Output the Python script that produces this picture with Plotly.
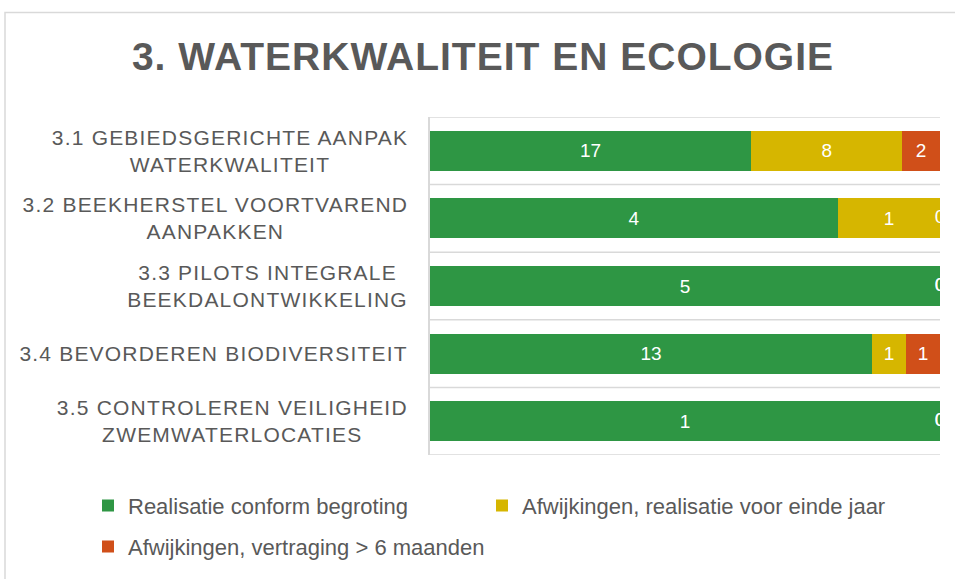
import plotly.graph_objects as go

# ---- data ----
categories = [
    "3.1 GEBIEDSGERICHTE AANPAK<br>WATERKWALITEIT",
    "3.2 BEEKHERSTEL VOORTVAREND<br>AANPAKKEN",
    "3.3 PILOTS INTEGRALE<br>BEEKDALONTWIKKELING",
    "3.4 BEVORDEREN BIODIVERSITEIT",
    "3.5 CONTROLEREN VEILIGHEID<br>ZWEMWATERLOCATIES",
]
series_names = [
    "Realisatie conform begroting",
    "Afwijkingen, realisatie voor einde jaar",
    "Afwijkingen, vertraging > 6 maanden",
]
realisatie = [17, 4, 5, 13, 1]
afwijking_jaar = [8, 1, 0, 1, 0]
vertraging = [2, 0, 0, 1, 0]
series_values = [realisatie, afwijking_jaar, vertraging]
colors = ["#2E9644", "#D6B600", "#D04F19"]
legend_ids = ["legend", "legend2", "legend3"]
title_text = "3. WATERKWALITEIT EN ECOLOGIE"

# ---- layout geometry (pixels) ----
FW, FH = 955, 579
L, R, T, B = 430, 15, 117, 122
PW, PH = FW - L - R, FH - T - B


def px_x(px):
    return (px - L) / PW


def px_y(py):
    return (FH - B - py) / PH


TXT = "#595959"
FONT = "Liberation Sans, Arial, sans-serif"
ycat = list(range(len(categories)))

fig = go.Figure()
for name, vals, col, lg in zip(series_names, series_values, colors, legend_ids):
    fig.add_trace(go.Bar(
        y=ycat, x=vals, name=name, orientation="h", legend=lg,
        marker=dict(color=col, line=dict(width=0)),
        text=[str(v) if v != 0 else "" for v in vals],
        textposition="inside", insidetextanchor="middle",
        textfont=dict(color="white", size=19, family=FONT),
        constraintext="none",
    ))

# zero-value data labels sit at the 100% end of the bar (clipped by plot area)
zx, zy, zt = [], [], []
for vals in series_values[1:]:
    for i, v in enumerate(vals):
        if v == 0:
            zx.append(100)
            zy.append(i)
            zt.append(str(v))
fig.add_trace(go.Scatter(
    x=zx, y=zy, text=zt, mode="text", textposition="middle center",
    textfont=dict(color="white", size=19, family=FONT),
    showlegend=False, cliponaxis=True, hoverinfo="skip",
))

# category labels (centered multi-line, right-aligned block)
annotations = []
for i, c in enumerate(categories):
    annotations.append(dict(
        x=0, xref="paper", y=i, yref="y", text=c, showarrow=False,
        xanchor="right", yanchor="middle", align="center", xshift=-20, yshift=0,
        font=dict(size=21, color=TXT, family=FONT),
    ))

# category separator lines + chart border
shapes = []
for k in range(len(categories) + 1):
    shapes.append(dict(type="line", xref="paper", yref="y", x0=0, x1=1,
                       y0=k - 0.5, y1=k - 0.5,
                       line=dict(color="#D9D9D9", width=1.5), layer="below"))
shapes.append(dict(type="rect", xref="paper", yref="paper",
                   x0=px_x(5), x1=px_x(FW + 20), y0=px_y(FH + 20), y1=px_y(12),
                   line=dict(color="#D9D9D9", width=1.5), layer="below"))

legend_common = dict(orientation="h", xanchor="left", yanchor="top",
                     font=dict(size=22, color=TXT, family=FONT),
                     itemclick=False, itemdoubleclick=False,
                     bgcolor="rgba(0,0,0,0)")

fig.update_layout(
    width=FW, height=FH,
    margin=dict(l=L, r=R, t=T, b=B),
    paper_bgcolor="white", plot_bgcolor="white",
    barmode="stack", barnorm="percent", bargap=0.41,
    title=dict(text="<b>" + title_text + "</b>", x=483 / FW, xanchor="center",
               y=1 - 56 / FH, yanchor="middle", xref="container", yref="container",
               font=dict(size=39, color=TXT, family=FONT)),
    xaxis=dict(range=[0, 100], showticklabels=False, showgrid=False,
               zeroline=False, showline=False, fixedrange=True),
    yaxis=dict(range=[len(categories) - 0.5, -0.5], showticklabels=False,
               showgrid=False, zeroline=False, showline=True,
               linecolor="#D9D9D9", linewidth=1.5, ticks=""),
    legend=dict(x=px_x(88), y=px_y(487), **legend_common),
    legend2=dict(x=px_x(482), y=px_y(487), **legend_common),
    legend3=dict(x=px_x(88), y=px_y(528), **legend_common),
    annotations=annotations,
    shapes=shapes,
    showlegend=True,
)

post_js = """
document.body.style.margin='0px';
var gd=document.getElementById('{plot_id}');
gd.querySelectorAll('.annotation-text').forEach(function(t){
  var b0=t.getBBox(); var r0=b0.x+b0.width;
  t.setAttribute('letter-spacing','1.2px');
  var b1=t.getBBox(); var r1=b1.x+b1.width;
  t.setAttribute('transform','translate('+(r0-r1)+',0)');
});
gd.querySelectorAll('.gtitle').forEach(function(t){
  t.setAttribute('letter-spacing','1px');
});
"""

fig.write_html("out.html", post_script=post_js,
               config={"displayModeBar": False, "responsive": False})
